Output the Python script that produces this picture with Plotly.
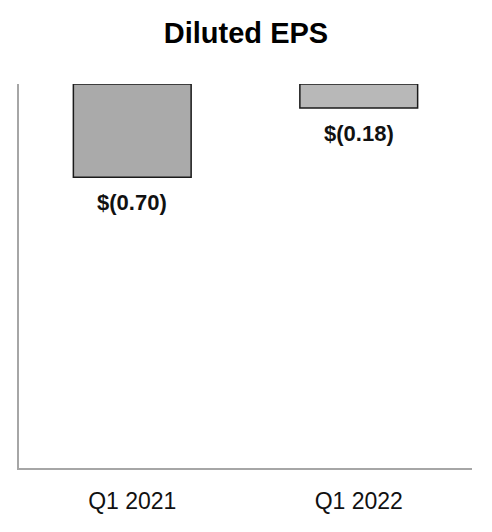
import plotly.graph_objects as go

categories = ["Q1 2021", "Q1 2022"]
eps_values = [-0.70, -0.18]
eps_labels = ["$(0.70)", "$(0.18)"]
bar_colors = ["#aaaaaa", "#b8b8b8"]

FONT = "Liberation Sans, Arial, sans-serif"

fig = go.Figure()
fig.add_trace(go.Bar(
    x=categories,
    y=eps_values,
    width=0.52,
    marker=dict(color=bar_colors, line=dict(color="#1a1a1a", width=1.5)),
    hoverinfo="skip",
))

for cat, val, lab in zip(categories, eps_values, eps_labels):
    fig.add_annotation(
        x=cat, y=val, text="<b>" + lab + "</b>", showarrow=False,
        yanchor="middle", yshift=-25,
        font=dict(family=FONT, size=22, color="#111111"),
    )

fig.update_layout(
    width=492, height=532,
    margin=dict(l=19, r=20, t=84, b=64),
    paper_bgcolor="white", plot_bgcolor="white",
    showlegend=False,
    title=dict(text="<b>Diluted EPS</b>", x=0.5, xanchor="center", y=1 - 33/532, yanchor="middle",
               font=dict(family=FONT, size=29, color="#000000")),
    font=dict(family=FONT),
)
fig.update_xaxes(
    range=[-0.5, 1.5], showgrid=False, zeroline=False,
    showline=True, linecolor="#a6a6a6", linewidth=2,
    ticks="outside", ticklen=11, tickcolor="rgba(0,0,0,0)",
    tickfont=dict(size=23, color="#111111"),
)
fig.update_yaxes(
    range=[-2.88, 0], showgrid=False, zeroline=False,
    showline=True, linecolor="#a6a6a6", linewidth=2,
    showticklabels=False, ticks="",
)
fig.write_html("out.html", config={"displayModeBar": False},
               post_script="document.body.style.margin='0';")
